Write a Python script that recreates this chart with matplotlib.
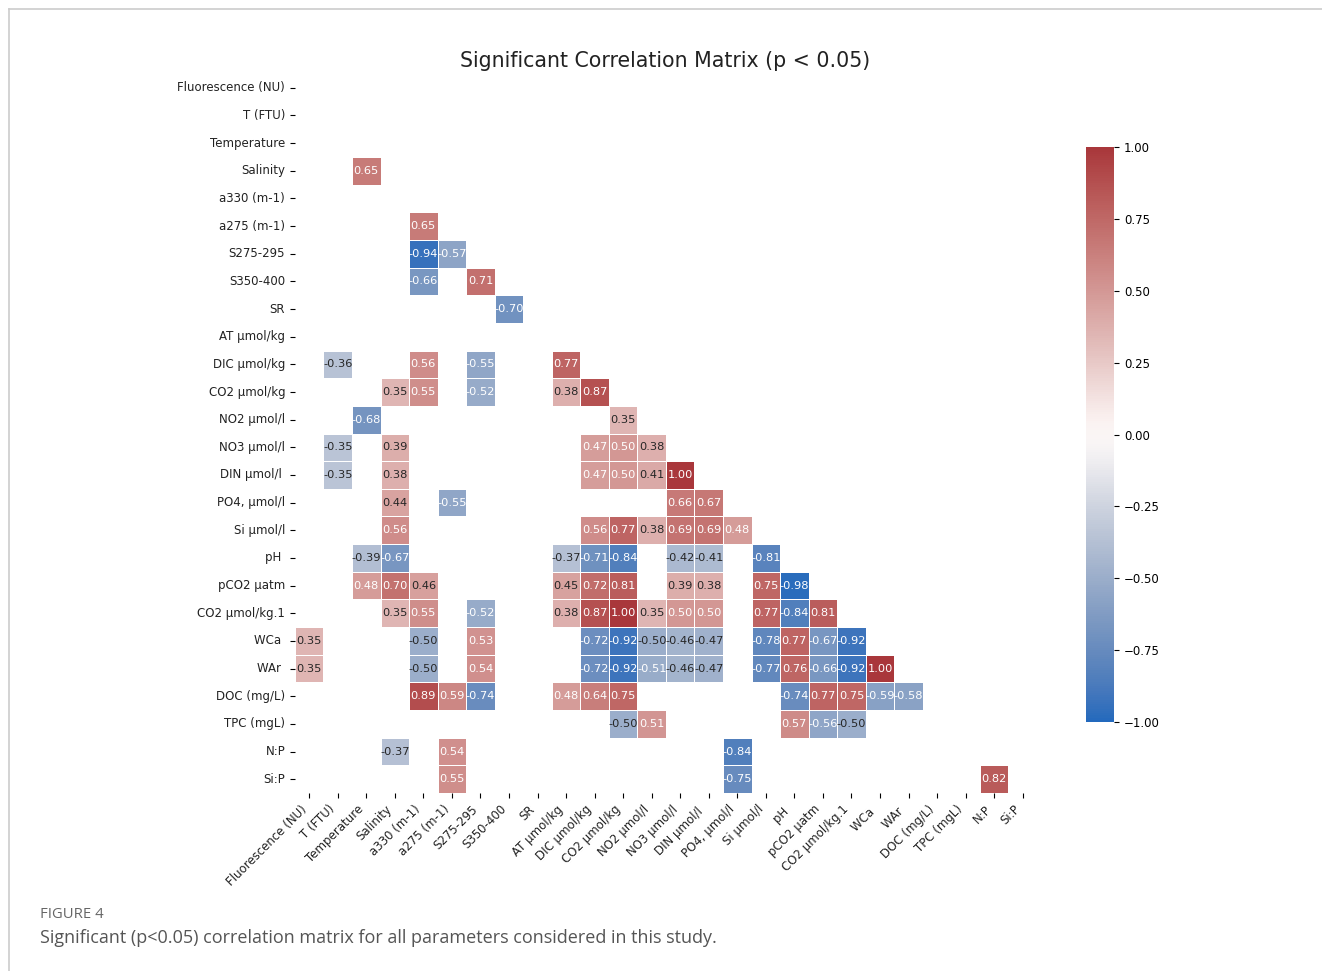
import numpy as np
import pandas as pd
import matplotlib
matplotlib.use("Agg")
import matplotlib.pyplot as plt
from matplotlib.lines import Line2D
import seaborn as sns

labels = ['Fluorescence (NU)', 'T (FTU)', 'Temperature', 'Salinity', 'a330 (m-1)',
          'a275 (m-1)', 'S275-295', 'S350-400', 'SR', 'AT µmol/kg', 'DIC µmol/kg',
          'CO2 µmol/kg', 'NO2 µmol/l', 'NO3 µmol/l', 'DIN µmol/l ', 'PO4, µmol/l',
          'Si µmol/l', 'pH ', 'pCO2 µatm', 'CO2 µmol/kg.1', 'WCa ', 'WAr ',
          'DOC (mg/L)', 'TPC (mgL)', 'N:P', 'Si:P']

# significant pairs (row index, column index, r) in the lower triangle
pair_row = [3, 5, 6, 6, 7, 7, 8,
            10, 10, 10, 10,
            11, 11, 11, 11, 11,
            12, 12,
            13, 13, 13, 13, 13,
            14, 14, 14, 14, 14, 14,
            15, 15, 15, 15,
            16, 16, 16, 16, 16, 16, 16,
            17, 17, 17, 17, 17, 17, 17, 17,
            18, 18, 18, 18, 18, 18, 18, 18, 18, 18,
            19, 19, 19, 19, 19, 19, 19, 19, 19, 19, 19, 19,
            20, 20, 20, 20, 20, 20, 20, 20, 20, 20, 20, 20,
            21, 21, 21, 21, 21, 21, 21, 21, 21, 21, 21, 21, 21,
            22, 22, 22, 22, 22, 22, 22, 22, 22, 22, 22,
            23, 23, 23, 23, 23,
            24, 24, 24,
            25, 25, 25]
pair_col = [2, 4, 4, 5, 4, 6, 7,
            1, 4, 6, 9,
            3, 4, 6, 9, 10,
            2, 11,
            1, 3, 10, 11, 12,
            1, 3, 10, 11, 12, 13,
            3, 5, 13, 14,
            3, 10, 11, 12, 13, 14, 15,
            2, 3, 9, 10, 11, 13, 14, 16,
            2, 3, 4, 9, 10, 11, 13, 14, 16, 17,
            3, 4, 6, 9, 10, 11, 12, 13, 14, 16, 17, 18,
            0, 4, 6, 10, 11, 12, 13, 14, 16, 17, 18, 19,
            0, 4, 6, 10, 11, 12, 13, 14, 16, 17, 18, 19, 20,
            4, 5, 6, 9, 10, 11, 17, 18, 19, 20, 21,
            11, 12, 17, 18, 19,
            3, 5, 15,
            5, 15, 24]
r_value = [0.65, 0.65, -0.94, -0.57, -0.66, 0.71, -0.70,
           -0.36, 0.56, -0.55, 0.77,
           0.35, 0.55, -0.52, 0.38, 0.87,
           -0.68, 0.35,
           -0.35, 0.39, 0.47, 0.50, 0.38,
           -0.35, 0.38, 0.47, 0.50, 0.41, 1.00,
           0.44, -0.55, 0.66, 0.67,
           0.56, 0.56, 0.77, 0.38, 0.69, 0.69, 0.48,
           -0.39, -0.67, -0.37, -0.71, -0.84, -0.42, -0.41, -0.81,
           0.48, 0.70, 0.46, 0.45, 0.72, 0.81, 0.39, 0.38, 0.75, -0.98,
           0.35, 0.55, -0.52, 0.38, 0.87, 1.00, 0.35, 0.50, 0.50, 0.77, -0.84, 0.81,
           0.35, -0.50, 0.53, -0.72, -0.92, -0.50, -0.46, -0.47, -0.78, 0.77, -0.67, -0.92,
           0.35, -0.50, 0.54, -0.72, -0.92, -0.51, -0.46, -0.47, -0.77, 0.76, -0.66, -0.92, 1.00,
           0.89, 0.59, -0.74, 0.48, 0.64, 0.75, -0.74, 0.77, 0.75, -0.59, -0.58,
           -0.50, 0.51, 0.57, -0.56, -0.50,
           -0.37, 0.54, -0.84,
           0.55, -0.75, 0.82]

n = len(labels)
corr = np.full((n, n), np.nan)
for i, j, r in zip(pair_row, pair_col, r_value):
    corr[i, j] = r
corr = pd.DataFrame(corr, index=labels, columns=labels)

fig = plt.figure(figsize=(13.22, 9.71), dpi=100)
ax = fig.add_axes([0.2231, 0.1833, 0.5613, 0.7405])
cax = fig.add_axes([0.8215, 0.2564, 0.0212, 0.5922])

sns.heatmap(corr, ax=ax, cbar_ax=cax, cmap="vlag", vmin=-1, vmax=1,
            annot=True, fmt=".2f", annot_kws={"fontsize": 8.2},
            linewidths=0.5, linecolor="white", square=False)

ax.set_xticks(np.arange(n) + 0.5)
ax.set_xticklabels(labels, rotation=45, ha="right", fontsize=8.5, color="#222222")
ax.set_yticks(np.arange(n) + 0.5)
ax.set_yticklabels(labels, rotation=0, fontsize=8.5, color="#222222")
cax.tick_params(labelsize=8.5)
cax.set_yticks([-1, -0.75, -0.5, -0.25, 0, 0.25, 0.5, 0.75, 1])
cax.set_yticklabels(["\u22121.00", "\u22120.75", "\u22120.50", "\u22120.25", "0.00",
                     "0.25", "0.50", "0.75", "1.00"])

fig.text(0.503, 1 - 61 / 971, "Significant Correlation Matrix (p < 0.05)",
         ha="center", va="center", fontsize=14.8, color="#222222")

# page frame and caption
fig.add_artist(Line2D([9 / 1322, 1], [1 - 9.5 / 971] * 2, color="#cccccc", lw=1.2))
fig.add_artist(Line2D([9 / 1322] * 2, [0, 1 - 9.5 / 971], color="#cccccc", lw=1.2))
fig.text(40 / 1322, 1 - 914 / 971, "FIGURE 4", ha="left", va="center",
         fontsize=10.7, color="#666666", family="Open Sans")
fig.text(40 / 1322, 1 - 938 / 971,
         "Significant (p<0.05) correlation matrix for all parameters considered in this study.",
         ha="left", va="center", fontsize=13, color="#555555", family="Open Sans")

fig.savefig("out.png", dpi=100)
